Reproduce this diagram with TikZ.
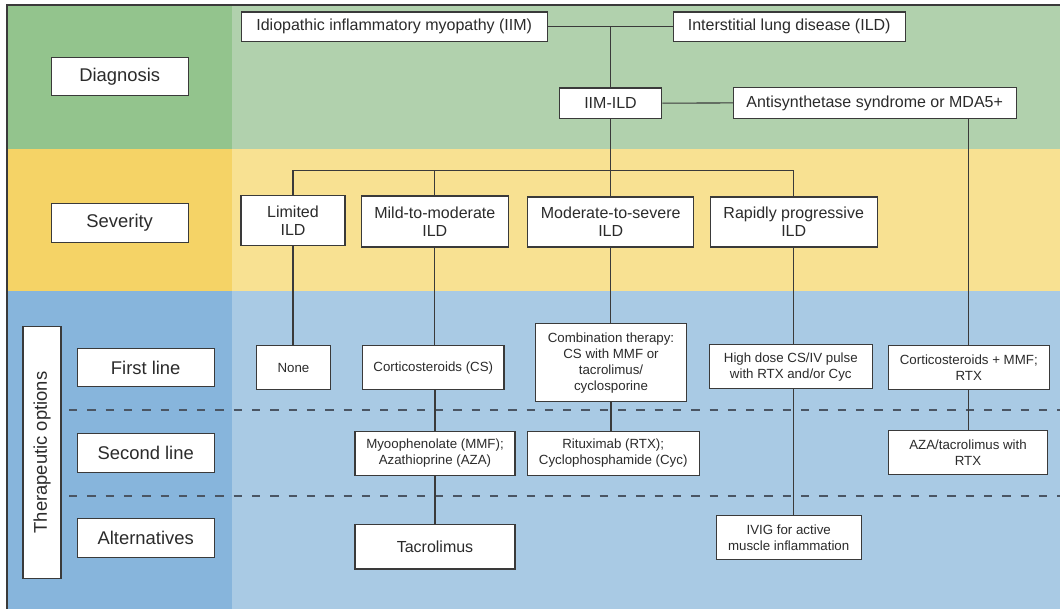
\documentclass[tikz,border=0pt]{standalone}
\usepackage{fontspec}
\setmainfont{Liberation Sans}
\usetikzlibrary{backgrounds}
\pgfdeclarelayer{bands}
\pgfsetlayers{bands,background,main}
\definecolor{dgreen}{HTML}{93C48D}
\definecolor{lgreen}{HTML}{B1D1AD}
\definecolor{dyellow}{HTML}{F5D366}
\definecolor{lyellow}{HTML}{F8E192}
\definecolor{dblue}{HTML}{87B5DC}
\definecolor{lblue}{HTML}{A9CAE4}
\definecolor{inkc}{HTML}{2B2B2B}
\definecolor{edgec}{HTML}{3A3A3A}
\definecolor{dashc}{HTML}{4A5563}
\newcommand\fsml{\fontsize{13.3}{16}\selectfont}
\newcommand\fmid{\fontsize{16}{18.3}\selectfont}
\newcommand\flbl{\fontsize{18.4}{22}\selectfont}
\begin{document}
\begin{tikzpicture}[x=1pt,y=-1pt,
  box/.style={draw=edgec,line width=1.1pt,fill=white,text=inkc,inner sep=0pt,
    align=center,minimum width=#1},
  small/.style={box=#1,font=\fsml},
  mid/.style={box=#1,font=\fmid},
  lbl/.style={box=#1,font=\flbl},
  link/.style={draw=edgec,line width=1.1pt},
  rowsep/.style={draw=dashc,line width=1.8pt,dash pattern=on 8.3pt off 10pt}]
\useasboundingbox (0,0) rectangle (1060,609);
% band backgrounds and row separators
\begin{pgfonlayer}{bands}
\fill[dgreen] (7,5) rectangle (232,149);
\fill[lgreen] (232,5) rectangle (1060,149);
\fill[dyellow] (7,149) rectangle (232,291.5);
\fill[lyellow] (232,149) rectangle (1060,291.5);
\fill[dblue] (7,291.5) rectangle (232,609);
\fill[lblue] (232,291.5) rectangle (1060,609);
\draw[edgec,line width=1.3pt] (7,609) -- (7,5) -- (1060,5);
\coordinate (s1a) at (69,409.7); \coordinate (s1b) at (1060,409.7);
\coordinate (s2a) at (69,496);   \coordinate (s2b) at (1060,496);
\draw[rowsep] (s1a) -- (s1b);
\draw[rowsep] (s2a) -- (s2b);
\end{pgfonlayer}
% row labels
\node[lbl=137,minimum height=38.4] (diag) at (119.7,76.5) {Diagnosis};
\node[lbl=137,minimum height=38.6] (sev) at (119.7,223) {Severity};
\node[lbl=251.6,minimum height=38,rotate=90] (ther) at (42,452.5) {Therapeutic options};
\node[lbl=137.3,minimum height=38.4] (first) at (145.7,367.5) {First line};
\node[lbl=137.3,minimum height=38.7] (second) at (145.7,452.7) {Second line};
\node[lbl=137.3,minimum height=38.7] (alt) at (145.7,537.7) {Alternatives};
% diagnosis
\node[mid=306.3,minimum height=29.3] (iim) at (394.2,26.7) {Idiopathic inflammatory myopathy (IIM)};
\node[mid=231.7,minimum height=29.3] (ild) at (789.2,26.7) {Interstitial lung disease (ILD)};
\node[mid=102.4,minimum height=30.3] (iimild) at (610.5,103.2) {IIM-ILD};
\node[mid=282.7,minimum height=31.3] (anti) at (874.7,102.9) {Antisynthetase syndrome or MDA5+};
% severity
\node[mid=104,minimum height=49.7] (lim) at (293,220.8) {Limited\\ILD};
\node[mid=147,minimum height=51] (mild) at (434.8,221.5) {Mild-to-moderate\\ILD};
\node[mid=166,minimum height=50] (mod) at (610.7,222) {Moderate-to-severe\\ILD};
\node[mid=167.3,minimum height=50] (rapid) at (793.7,222) {Rapidly progressive\\ILD};
% first line
\node[small=73.6,minimum height=44.3] (none) at (293.5,367.8) {None};
\node[small=141.3,minimum height=44.3] (cs) at (433.3,367.8) {Corticosteroids (CS)};
\node[small=150.6,minimum height=77.7] (comb) at (611,362.8) {Combination therapy:\\CS with MMF or\\tacrolimus/\\cyclosporine};
\node[small=163,minimum height=43.7] (hd) at (790.8,366.8) {High dose CS/IV pulse\\with RTX and/or Cyc};
\node[small=161,minimum height=44] (cmr) at (968.8,367.7) {Corticosteroids + MMF;\\RTX};
% second line
\node[small=160,minimum height=43.6] (myo) at (435,453.5) {Myoophenolate (MMF);\\Azathioprine (AZA)};
\node[small=172.3,minimum height=43.6] (rit) at (613.2,453.5) {Rituximab (RTX);\\Cyclophosphamide (Cyc)};
\node[small=159.4,minimum height=43.6] (aza) at (968,452.5) {AZA/tacrolimus with\\RTX};
% alternatives
\node[mid=160,minimum height=44.3] (tac) at (435,546.8) {Tacrolimus};
\node[small=145.3,minimum height=43.6] (ivig) at (788.7,537.5) {IVIG for active\\muscle inflammation};
% connectors, kept behind the boxes
\coordinate (bus) at (610.5,170.7);
\begin{pgfonlayer}{background}
\draw[link] (iim.east) -- (ild.west);
\draw[link] (iimild.north) -- (iimild.north |- iim.east);
\draw[link] (iimild.east) -- (anti.west);
\draw[link] (cmr.north |- anti.south) -- (cmr.north);
\draw[link] (iimild.south) -- (iimild.south |- mod.north);
\draw[link] (lim.north) -- (lim.north |- bus) -- (rapid.north |- bus) -- (rapid.north);
\draw[link] (mild.north) -- (mild.north |- bus);
\draw[link] (lim.south) -- (lim.south |- none.north);
\draw[link] (mild.south) -- (mild.south |- cs.north);
\draw[link] (myo.north |- cs.south) -- (myo.north);
\draw[link] (myo.south) -- (tac.north);
\draw[link] (mod.south) -- (mod.south |- comb.north);
\draw[link] (comb.south) -- (comb.south |- rit.north);
\draw[link] (rapid.south) -- (rapid.south |- hd.north);
\draw[link] (rapid.south |- hd.south) -- (rapid.south |- ivig.north);
\draw[link] (cmr.south) -- (cmr.south |- aza.north);
\end{pgfonlayer}
\end{tikzpicture}
\end{document}
